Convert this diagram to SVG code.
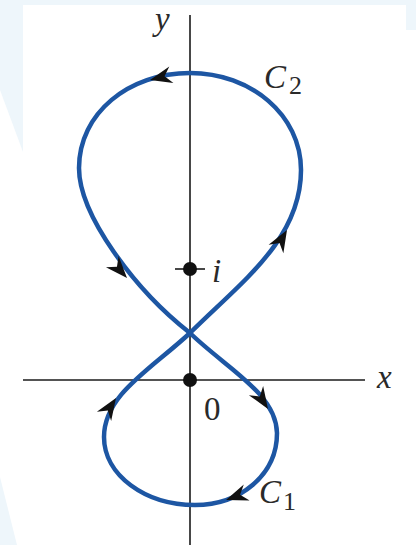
<svg xmlns="http://www.w3.org/2000/svg" width="416" height="545" viewBox="0 0 416 545">
<style>
.bg{fill:#eef6fb}
.axis{stroke:#1a1a1a;stroke-width:1.6;fill:none}
.curve{stroke:#1d56a3;stroke-width:4.5;fill:none;stroke-linecap:round}
.dot{fill:#111}
.ah{fill:#111}
.lbl{font-family:'Liberation Serif','DejaVu Serif',serif;font-style:italic;font-size:33px;fill:#2a2a2a}
.num{font-family:'Liberation Serif','DejaVu Serif',serif;font-size:33px;fill:#2a2a2a}
.sub{font-family:'Liberation Serif','DejaVu Serif',serif;font-size:26px;fill:#2a2a2a}
</style>
<rect width="416" height="545" fill="#ffffff"/>
<g id="background">
<rect class="bg" x="0" y="0" width="416" height="5"/>
<polygon class="bg" points="0,0 23,0 23,152 0,90"/>
<rect class="bg" x="406" y="0" width="10" height="30"/>
<polygon class="bg" points="0,477 17,545 0,545"/>
</g>
<g id="axes">
<line class="axis" x1="190" y1="15" x2="190" y2="545"/>
<line class="axis" x1="23" y1="380" x2="365" y2="380"/>
<line class="axis" x1="175" y1="269" x2="205" y2="269"/>
</g>
<g id="connectors">
<path id="C2" class="curve" d="M190,333 C240,283 301,240 301,170 C301,115 251,73 190,73 C129,73 79,113 79,168 C79,215 135,290 190,333"/>
<path id="C1" class="curve" d="M190,333 C227,369 276,393 277,433 C277,475 240,505 195,505 C145,505 104,475 104,437 C104,395 150,370 190,333"/>
<path class="ah" transform="translate(150,80) rotate(166)" d="M0,0 L-22,-8.5 L-15,0 L-22,8.5 Z"/>
<path class="ah" transform="translate(127,278) rotate(48)" d="M0,0 L-22,-8.5 L-15,0 L-22,8.5 Z"/>
<path class="ah" transform="translate(287,230) rotate(-60)" d="M0,0 L-22,-8.5 L-15,0 L-22,8.5 Z"/>
<path class="ah" transform="translate(268,409) rotate(57)" d="M0,0 L-22,-8.5 L-15,0 L-22,8.5 Z"/>
<path class="ah" transform="translate(116,398) rotate(-57)" d="M0,0 L-22,-8.5 L-15,0 L-22,8.5 Z"/>
<path class="ah" transform="translate(226,500) rotate(160)" d="M0,0 L-22,-8.5 L-15,0 L-22,8.5 Z"/>
</g>
<g id="point-i">
<circle class="dot" cx="190" cy="269" r="7"/>
<text class="lbl" x="212" y="282">i</text>
</g>
<g id="origin">
<circle class="dot" cx="190" cy="380" r="7"/>
<text class="num" x="204" y="420">0</text>
</g>
<g id="labels">
<text class="lbl" x="155" y="30">y</text>
<text class="lbl" x="377" y="388">x</text>
<text class="lbl" x="264" y="88">C</text>
<text class="sub" x="289" y="94">2</text>
<text class="lbl" x="259" y="503">C</text>
<text class="sub" x="283" y="510">1</text>
</g>
</svg>
